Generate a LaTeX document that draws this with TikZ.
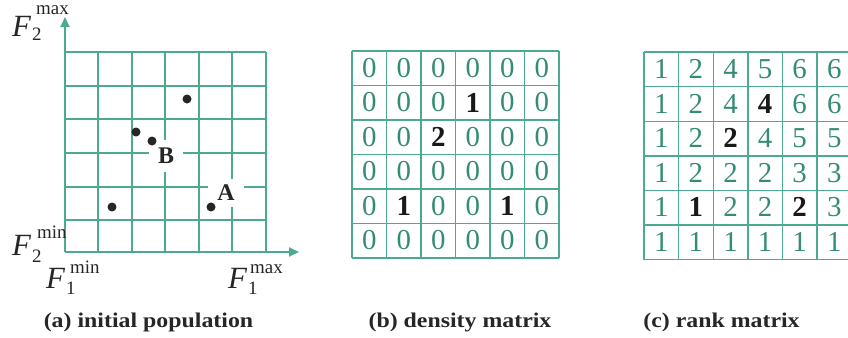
\documentclass[tikz,border=0pt]{standalone}
\usepackage{fontspec}
\setmainfont{Liberation Serif}
\usetikzlibrary{arrows.meta}
\definecolor{gridc}{RGB}{76,170,146}
\definecolor{digc}{RGB}{52,140,118}
\newcommand\B[1]{\textcolor{black!90}{\bfseries #1}}
\begin{document}
\begin{tikzpicture}[x=1bp,y=-1bp,
  gline/.style={draw=gridc,line width=1.8bp},
  mline/.style={draw=gridc,line width=1.4bp},
  dig/.style={inner sep=0pt,text=digc,font=\fontsize{29}{29}\selectfont},
  bigF/.style={inner sep=0pt,font=\fontsize{31}{31}\selectfont\itshape,anchor=base west,text=black!85},
  sm/.style={inner sep=0pt,font=\fontsize{19}{19}\selectfont,anchor=base west,text=black!85},
  lbl/.style={inner sep=2pt,fill=white,font=\fontsize{24}{24}\selectfont\bfseries,text=black!85},
  captxt/.style={inner sep=0pt,font=\fontsize{21}{21}\selectfont\bfseries,anchor=base,text=black!85},
  dot/.style={circle,fill=black!85,inner sep=0pt,minimum size=9bp}]
\useasboundingbox (0,0) rectangle (848,337);
\begin{scope}
\clip (0,0) rectangle (848,337);
% ---------- panel (a)
\foreach \x in {98,132,165,199,232,266}
  \draw[gline] (\x,52) -- (\x,252);
\foreach \y in {52,86,119,153,187,220}
  \draw[gline] (65,\y) -- (266,\y);
\node[lbl,minimum width=34bp,minimum height=32bp] (labB) at (166,156) {B};
\node[lbl,minimum width=36bp,minimum height=28bp] (labA) at (226,193) {A};
\coordinate (orig) at (65,252);
\coordinate (ytip) at (65,17);
\coordinate (xtip) at (299,252);
\draw[gline,-{Triangle[length=10bp,width=9bp]}] (orig) -- (ytip);
\draw[gline,-{Triangle[length=10bp,width=9bp]}] (orig) -- (xtip);
\node[dot] (d1) at (112,207) {};
\node[dot] (d2) at (136,132) {};
\node[dot] (d3) at (152,141) {};
\node[dot] (d4) at (187,99) {};
\node[dot] (d5) at (211,207) {};
% axis labels
\node[bigF] (f2maxF) at (12,36) {F};
\node[sm] (f2maxsub) at (32,40) {2};
\node[sm] (f2maxsup) at (36,14) {max};
\node[bigF] (f2minF) at (12,255) {F};
\node[sm] (f2minsub) at (32,262) {2};
\node[sm] (f2minsup) at (37,238) {min};
\node[bigF] (f1minF) at (46,288) {F};
\node[sm] (f1minsub) at (66,294) {1};
\node[sm] (f1minsup) at (70,273) {min};
\node[bigF] (f1maxF) at (228,288) {F};
\node[sm] (f1maxsub) at (248,294) {1};
\node[sm] (f1maxsup) at (250,273) {max};
% ---------- panel (b)
\foreach \i in {0,...,6} {
  \draw[mline] (352+34.5*\i,51) -- (352+34.5*\i,258);
  \draw[mline] (352,51+34.5*\i) -- (559,51+34.5*\i);
}
\foreach \row [count=\r from 0] in {
  {0,0,0,0,0,0},
  {0,0,0,\B{1},0,0},
  {0,0,\B{2},0,0,0},
  {0,0,0,0,0,0},
  {0,\B{1},0,0,\B{1},0},
  {0,0,0,0,0,0}} {
  \foreach \v [count=\c from 0] in \row
    \node[dig] (b-\r-\c) at (352+34.5*\c+17.25,51+34.5*\r+17) {\v};
}
% ---------- panel (c)
\foreach \i in {0,...,6} {
  \draw[mline] (644+34.6*\i,52) -- (644+34.6*\i,260);
  \draw[mline] (644,52+34.6*\i) -- (851.6,52+34.6*\i);
}
\foreach \row [count=\r from 0] in {
  {1,2,4,5,6,6},
  {1,2,4,\B{4},6,6},
  {1,2,\B{2},4,5,5},
  {1,2,2,2,3,3},
  {1,\B{1},2,2,\B{2},3},
  {1,1,1,1,1,1}} {
  \foreach \v [count=\c from 0] in \row
    \node[dig] (c-\r-\c) at (644+34.6*\c+17.3,52+34.6*\r+17) {\v};
}
\end{scope}
% ---------- captions
\node[captxt] (capa) at (148.5,327) {\scalebox{1.14}[1]{(a) initial population}};
\node[captxt] (capb) at (460,327) {\scalebox{1.14}[1]{(b) density matrix}};
\node[captxt] (capc) at (721.5,327) {\scalebox{1.14}[1]{(c) rank matrix}};
\end{tikzpicture}
\end{document}
